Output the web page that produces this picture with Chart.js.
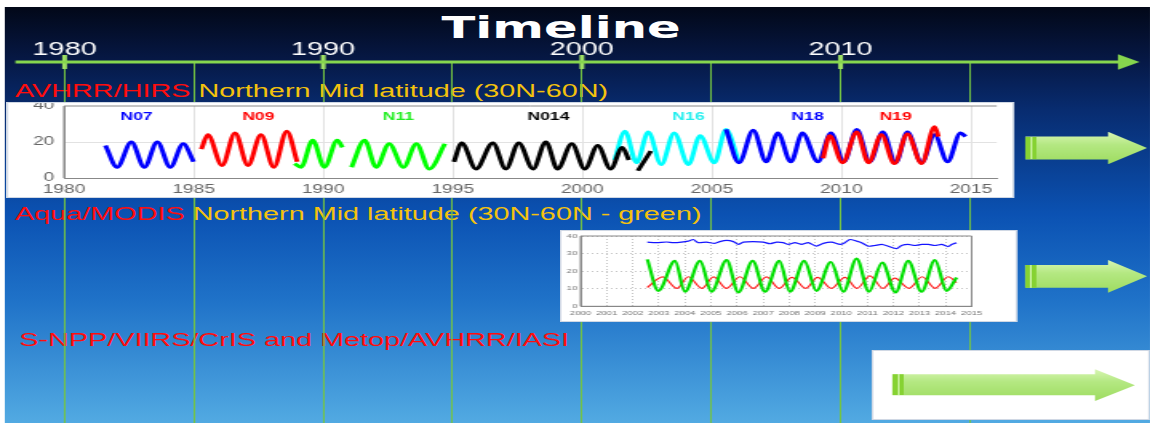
<!DOCTYPE html>
<html>
<head>
<meta charset="utf-8">
<script src="https://cdn.jsdelivr.net/npm/chart.js@4.4.1/dist/chart.umd.min.js"></script>
<style>
  html, body { margin: 0; padding: 0; background: #fff; }
  body { width: 1150px; height: 423px; overflow: hidden; position: relative; }
  /* the slide is a stretched 4:3 page, so everything is laid out narrow and scaled */
  #stage { position: absolute; left: 0; top: 0; width: 719px; height: 423px;
           transform-origin: 0 0; transform: scaleX(1.5994); }
  #slide { position: absolute; left: 2.5px; top: 7px; right: 0; bottom: 0;
           background: linear-gradient(to bottom, #020818 0%, #061845 12.7%, #082c70 24.8%,
                                       #0b52b3 50%, #1f72c8 70.4%, #52aae2 100%); }
  .txt { position: absolute; font-family: "Liberation Sans", Arial, sans-serif; font-size: 18px;
         line-height: 18px; white-space: nowrap; z-index: 1; }
  .red { color: #ff0d0d; }
  .yellow { color: #f4c20d; }
  #title { position: absolute; left: 250.8px; width: 200px; top: 12px; text-align: center;
           font-family: "DejaVu Sans", sans-serif; font-weight: bold; font-size: 31px;
           line-height: 31px; color: #fff; z-index: 1; }
  #timeline { position: absolute; left: 0; top: 0; z-index: 2; }
  .box { position: absolute; background: #fff; border: 1px solid #d0d8e4; box-sizing: border-box; z-index: 3; }
  .box canvas { position: absolute; left: 0; top: 0; }
  .arrow { position: absolute; z-index: 4;
           background: linear-gradient(to bottom, #d8f6b4 0%, #b4e882 40%, #9edc60 100%); }
  .arrow .stripe { position: absolute; left: 0; width: 7px;
           background: linear-gradient(to right, #86d232 0 45%, #c2ef94 45% 60%, #86d232 60% 100%); }
</style>
</head>
<body>
<div id="stage">
  <div id="slide"></div>
  <div id="title">Timeline</div>

  <div class="txt" style="left:9.4px; top:82px;"><span class="red">AVHRR/HIRS</span> <span class="yellow">Northern Mid latitude (30N-60N)</span></div>
  <div class="txt" style="left:9.4px; top:205px;"><span class="red">Aqua/MODIS</span> <span class="yellow">Northern Mid latitude (30N-60N - green)</span></div>
  <div class="txt red" style="left:12px; top:331px;">S-NPP/VIIRS/CrIS and Metop/AVHRR/IASI</div>

  <canvas id="timeline" width="719" height="423"></canvas>

  <div class="box" style="left:4.4px; top:102px; width:630px; height:96px;">
    <canvas id="hirs" width="630" height="96"></canvas>
  </div>
  <div class="box" style="left:350px; top:230px; width:286px; height:92px;">
    <canvas id="modis" width="286" height="92"></canvas>
  </div>
  <div class="box" style="left:545.2px; top:350px; width:174px; height:70px;"></div>

  <div class="arrow" style="left:640.9px; top:131.7px; width:76.3px; height:32.6px;
       clip-path: polygon(0 15%, 68% 15%, 68% 0, 100% 50%, 68% 100%, 68% 85%, 0 85%);">
    <div class="stripe" style="top:15%; bottom:15%;"></div></div>
  <div class="arrow" style="left:640.9px; top:260px; width:76.3px; height:32.7px;
       clip-path: polygon(0 15%, 68% 15%, 68% 0, 100% 50%, 68% 100%, 68% 85%, 0 85%);">
    <div class="stripe" style="top:15%; bottom:15%;"></div></div>
  <div class="arrow" style="left:557.5px; top:369.3px; width:152.1px; height:31.7px;
       clip-path: polygon(0 16%, 83.6% 16%, 83.6% 0, 100% 50%, 83.6% 100%, 83.6% 82%, 0 82%);">
    <div class="stripe" style="top:16%; bottom:18%;"></div></div>
</div>

<script>
// ---- timeline axis ----
const timelineTicks = [1980, 1985, 1990, 1995, 2000, 2005, 2010, 2015];
const timelineLabelYears = [1980, 1990, 2000, 2010];
const timelineSpan = [1978.1, 2021.0];

// ---- AVHRR/HIRS, northern mid latitude, one series per satellite ----
const n07Years = [1981.6, 1982.05, 1982.6, 1983.1, 1983.6, 1984.1, 1984.6, 1985.0];
const n07Temps = [18, 6, 20, 6, 20, 6, 19, 9];

const n09Years = [1985.3, 1985.55, 1986.1, 1986.6, 1987.1, 1987.6, 1988.1, 1988.6, 1989.0];
const n09Temps = [16, 24, 7, 25, 7, 24, 6, 26, 9];

const n11Years = [1988.9, 1989.15, 1989.6, 1990.05, 1990.55, 1990.75, 1990.9, 1991.1, 1991.6,
                  1992.05, 1992.55, 1993.1, 1993.6, 1994.1, 1994.7];
const n11Temps = [8, 6, 21, 6, 21, 17, null, 6, 21, 6, 19, 6, 19, 5, 19];

const n14Years = [1995.05, 1995.35, 1995.9, 1996.55, 1997.05, 1997.55, 1998.1, 1998.6, 1999.05,
                  1999.6, 2000.1, 2000.6, 2001.1, 2001.55, 2001.8, 2001.95, 2002.15, 2002.65];
const n14Temps = [9, 19.5, 5, 19.5, 5, 19.5, 5, 20, 5, 19, 5, 18, 5, 17, 10, null, 4, 15];

const n16Years = [2001.25, 2001.65, 2002.1, 2002.55, 2003.05, 2003.55, 2004.1, 2004.55, 2005.1, 2005.55, 2006.05];
const n16Temps = [10, 26, 8.5, 25.5, 7.5, 25, 7.5, 23.5, 8.5, 27, 8.5];

const n18Years = [2005.55, 2006.05, 2006.6, 2007.1, 2007.55, 2008.05, 2008.5, 2009.1, 2009.6, 2010.1,
                  2010.6, 2011.1, 2011.6, 2012.1, 2012.55, 2013.1, 2013.6, 2014.1, 2014.6, 2014.8];
const n18Temps = [27, 8.5, 26.5, 9, 25, 9, 25, 9, 25, 9, 27, 9, 25.5, 8.5, 25.5, 8.5, 24, 9, 25, 23];

const n19Years = [2009.3, 2009.55, 2010.05, 2010.6, 2011.05, 2011.55, 2012.05, 2012.55, 2013.1, 2013.6, 2013.75];
const n19Temps = [11, 23.5, 8.5, 25.5, 8.5, 24, 8, 24.5, 8, 28.5, 23];

const satNames = ['N07', 'N09', 'N11', 'N014', 'N16', 'N18', 'N19'];
const satNameYears = [1982.8, 1987.5, 1992.9, 1998.7, 2004.1, 2008.7, 2012.1];
const satColors = ['#0000ff', '#ff0000', '#22ee22', '#000000', '#22eeee', '#0000ff', '#ff0000'];
const satNameLevel = 34;

// ---- Aqua/MODIS ----
const modisBlueYears = [2002.56, 2002.91, 2003.3, 2003.55, 2003.87, 2004.13, 2004.32, 2004.51, 2004.83,
                        2005.15, 2005.34, 2005.6, 2005.86, 2006.05, 2006.24, 2006.62, 2007.01, 2007.26,
                        2007.52, 2007.77, 2007.97, 2008.22, 2008.48, 2008.73, 2009.05, 2009.31, 2009.63,
                        2009.95, 2010.14, 2010.33, 2010.59, 2010.78, 2011.03, 2011.29, 2011.55, 2011.8,
                        2012.12, 2012.31, 2012.57, 2012.82, 2013.08, 2013.34, 2013.59, 2013.85, 2014.1,
                        2014.23, 2014.42];
const modisBlue = [36.5, 36.2, 36.6, 36.2, 36.5, 37.1, 38.0, 36.2, 36.5,
                   35.8, 36.8, 37.5, 36.8, 35.2, 36.5, 36.8, 36.5, 35.6,
                   36.5, 36.2, 35.2, 36.2, 35.2, 36.2, 34.2, 35.8, 36.5,
                   35.2, 36.2, 38.0, 37.1, 36.2, 34.2, 34.6, 35.2, 34.2,
                   32.8, 34.6, 35.2, 34.6, 35.2, 35.2, 34.6, 35.2, 34.0,
                   35.2, 36.2];

const modisGreenYears = [2002.56, 2002.98, 2003.62, 2004.0, 2004.58, 2005.02, 2005.6, 2006.05, 2006.6,
                         2007.07, 2007.62, 2008.03, 2008.58, 2009.05, 2009.6, 2010.08, 2010.59, 2011.06,
                         2011.57, 2012.08, 2012.57, 2013.08, 2013.59, 2014.04, 2014.42];
const modisGreen = [26.7, 8.8, 25.8, 8.3, 25.8, 8.3, 26.3, 7.9, 25.8,
                    8.3, 25.8, 8.3, 25.8, 8.8, 25.2, 8.3, 27.1, 8.3,
                    24.8, 7.9, 25.8, 8.3, 26.3, 8.8, 16.4];

const modisRedYears = [2002.56, 2003.15, 2003.7, 2004.13, 2004.65, 2005.1, 2005.6, 2006.11, 2006.62,
                       2007.13, 2007.62, 2008.1, 2008.64, 2009.09, 2009.62, 2010.14, 2010.6, 2011.1,
                       2011.6, 2012.05, 2012.6, 2013.1, 2013.6, 2014.1, 2014.42];
const modisRed = [10.7, 16.7, 10.2, 16.8, 10.2, 16.7, 10.2, 16.8, 10.2,
                  16.7, 10.2, 16.5, 10.2, 16.5, 10.2, 16.5, 10.2, 17.3,
                  10.2, 16.0, 10.2, 16.8, 10.2, 16.8, 13.5];

function series(years, values) {
    return years.map((x, i) => ({ x: x, y: values[i] }));
}

const noInteraction = {
    responsive: false,
    animation: false,
    devicePixelRatio: 1,
    events: []
};

// fixed axis sizes so the plot area lands where the slide has it
function fixedWidth(w) {
    return s => { s.width = w; s.paddingTop = 0; s.paddingBottom = 0; };
}
function fixedHeight(h) {
    return s => { s.height = h; s.paddingLeft = 0; s.paddingRight = 0; };
}

// frame around the plot area, like the MATLAB box
const frameBox = {
    id: 'frameBox',
    beforeDatasetsDraw(chart, args, opts) {
        const { ctx, chartArea: a } = chart;
        ctx.save();
        ctx.strokeStyle = opts.color || '#888';
        ctx.lineWidth = 1;
        ctx.beginPath();
        ctx.moveTo(a.left, a.bottom);
        ctx.lineTo(a.left, a.top);
        ctx.lineTo(a.right, a.top);
        if (opts.closed) {
            ctx.lineTo(a.right, a.bottom);
            ctx.lineTo(a.left, a.bottom);
        }
        ctx.stroke();
        ctx.restore();
    }
};

const satNameLabels = {
    id: 'satNameLabels',
    afterDatasetsDraw(chart) {
        const { ctx, scales: { x, y } } = chart;
        ctx.save();
        ctx.font = 'bold 11px "Liberation Sans", Arial, sans-serif';
        ctx.textAlign = 'center';
        ctx.textBaseline = 'middle';
        satNames.forEach((name, i) => {
            ctx.fillStyle = satColors[i];
            ctx.fillText(name, x.getPixelForValue(satNameYears[i]), y.getPixelForValue(satNameLevel));
        });
        ctx.restore();
    }
};

// ---- timeline with vertical year lines ----
const lineGreen = '#86d64e';
new Chart(document.getElementById('timeline'), {
    type: 'line',
    data: {
        datasets: [
            {
                data: timelineSpan.map(x => ({ x: x, y: 1 })),
                borderColor: lineGreen,
                borderWidth: 3,
                pointStyle: 'triangle',
                rotation: 90,
                pointRadius: [0, 6],
                pointBackgroundColor: lineGreen,
                pointBorderColor: lineGreen,
                clip: false
            },
            {
                data: timelineLabelYears.map(x => ({ x: x, y: 1 })),
                showLine: false,
                pointStyle: 'line',
                rotation: 90,
                pointRadius: 7,
                borderColor: '#9ee064',
                borderWidth: 3,
                clip: false
            }
        ]
    },
    options: {
        ...noInteraction,
        layout: { padding: 0, autoPadding: false },
        plugins: { legend: { display: false }, tooltip: { enabled: false } },
        scales: {
            x: {
                type: 'linear',
                position: 'top',
                min: 1977.503,
                max: 2021.96,
                afterBuildTicks: s => { s.ticks = timelineTicks.map(v => ({ value: v })); },
                afterFit: fixedHeight(62),
                grid: { color: '#74c442', lineWidth: 1, drawTicks: false },
                border: { display: false },
                ticks: {
                    color: '#ffffff',
                    font: { family: 'Liberation Sans', size: 18 },
                    padding: 1,
                    autoSkip: false,
                    maxRotation: 0,
                    callback: v => timelineLabelYears.includes(v) ? String(v) : ''
                }
            },
            y: { display: false, min: 0, max: 1 }
        }
    }
});

// ---- AVHRR/HIRS inset ----
const hirsSets = [
    ['N19', n19Years, n19Temps, '#ff0000', 0],
    ['N18', n18Years, n18Temps, '#0000ff', 1],
    ['N014', n14Years, n14Temps, '#000000', 2],
    ['N16', n16Years, n16Temps, '#00ffff', 3],
    ['N11', n11Years, n11Temps, '#00ff00', 4],
    ['N09', n09Years, n09Temps, '#ff0000', 4],
    ['N07', n07Years, n07Temps, '#0000ff', 4]
];

new Chart(document.getElementById('hirs'), {
    type: 'line',
    data: {
        datasets: hirsSets.map(([label, years, temps, color, order]) => ({
            label: label,
            data: series(years, temps),
            borderColor: color,
            order: order
        }))
    },
    options: {
        ...noInteraction,
        layout: { padding: { left: 0, top: 3, right: 11.8, bottom: 0 }, autoPadding: false },
        elements: {
            line: { borderWidth: 3, cubicInterpolationMode: 'monotone' },
            point: { radius: 0 }
        },
        plugins: { legend: { display: false }, tooltip: { enabled: false }, frameBox: { color: '#888' } },
        scales: {
            x: {
                type: 'linear',
                min: 1980,
                max: 2016,
                afterFit: fixedHeight(21),
                grid: { color: c => c.tick.value % 5 === 0 ? '#e2e2e2' : 'rgba(0,0,0,0)', drawTicks: false },
                border: { display: true, color: '#888' },
                ticks: {
                    stepSize: 1,
                    autoSkip: false,
                    maxRotation: 0,
                    padding: 4,
                    color: '#666',
                    font: { family: 'Liberation Sans', size: 12 },
                    callback: v => v % 5 === 0 ? String(v) : ''
                }
            },
            y: {
                min: 0,
                max: 40,
                afterFit: fixedWidth(35),
                grid: { color: c => c.tick.value === 20 ? '#e2e2e2' : 'rgba(0,0,0,0)', drawTicks: false },
                border: { display: true, color: '#888' },
                ticks: {
                    stepSize: 20,
                    padding: 6,
                    color: '#666',
                    font: { family: 'Liberation Sans', size: 12 }
                }
            }
        }
    },
    plugins: [frameBox, satNameLabels]
});

// ---- Aqua/MODIS inset ----
new Chart(document.getElementById('modis'), {
    type: 'line',
    data: {
        datasets: [
            { label: 'green', data: series(modisGreenYears, modisGreen), borderColor: '#00e000',
              borderWidth: 2.2, cubicInterpolationMode: 'monotone' },
            { label: 'red', data: series(modisRedYears, modisRed), borderColor: '#ff1a1a',
              borderWidth: 1.2, cubicInterpolationMode: 'monotone' },
            { label: 'blue', data: series(modisBlueYears, modisBlue), borderColor: '#1414ff',
              borderWidth: 1.2, tension: 0.2 }
        ]
    },
    options: {
        ...noInteraction,
        layout: { padding: { left: 0, top: 5, right: 29.5, bottom: 0 }, autoPadding: false },
        elements: { point: { radius: 0 } },
        plugins: { legend: { display: false }, tooltip: { enabled: false }, frameBox: { color: '#888', closed: true } },
        scales: {
            x: {
                type: 'linear',
                min: 2000,
                max: 2015,
                afterFit: fixedHeight(16.7),
                grid: { color: '#c4c4c4', drawTicks: false },
                border: { display: true, color: '#888', dash: [1, 2] },
                ticks: {
                    stepSize: 1,
                    autoSkip: false,
                    maxRotation: 0,
                    padding: 3,
                    color: '#777',
                    font: { family: 'Liberation Sans', size: 6 },
                    callback: v => String(v)
                }
            },
            y: {
                min: 0,
                max: 40,
                afterFit: fixedWidth(12),
                grid: { color: '#c4c4c4', drawTicks: false },
                border: { display: true, color: '#888', dash: [1, 2] },
                ticks: {
                    stepSize: 10,
                    padding: 2,
                    color: '#777',
                    font: { family: 'Liberation Sans', size: 6 }
                }
            }
        }
    },
    plugins: [frameBox]
});
</script>
</body>
</html>
